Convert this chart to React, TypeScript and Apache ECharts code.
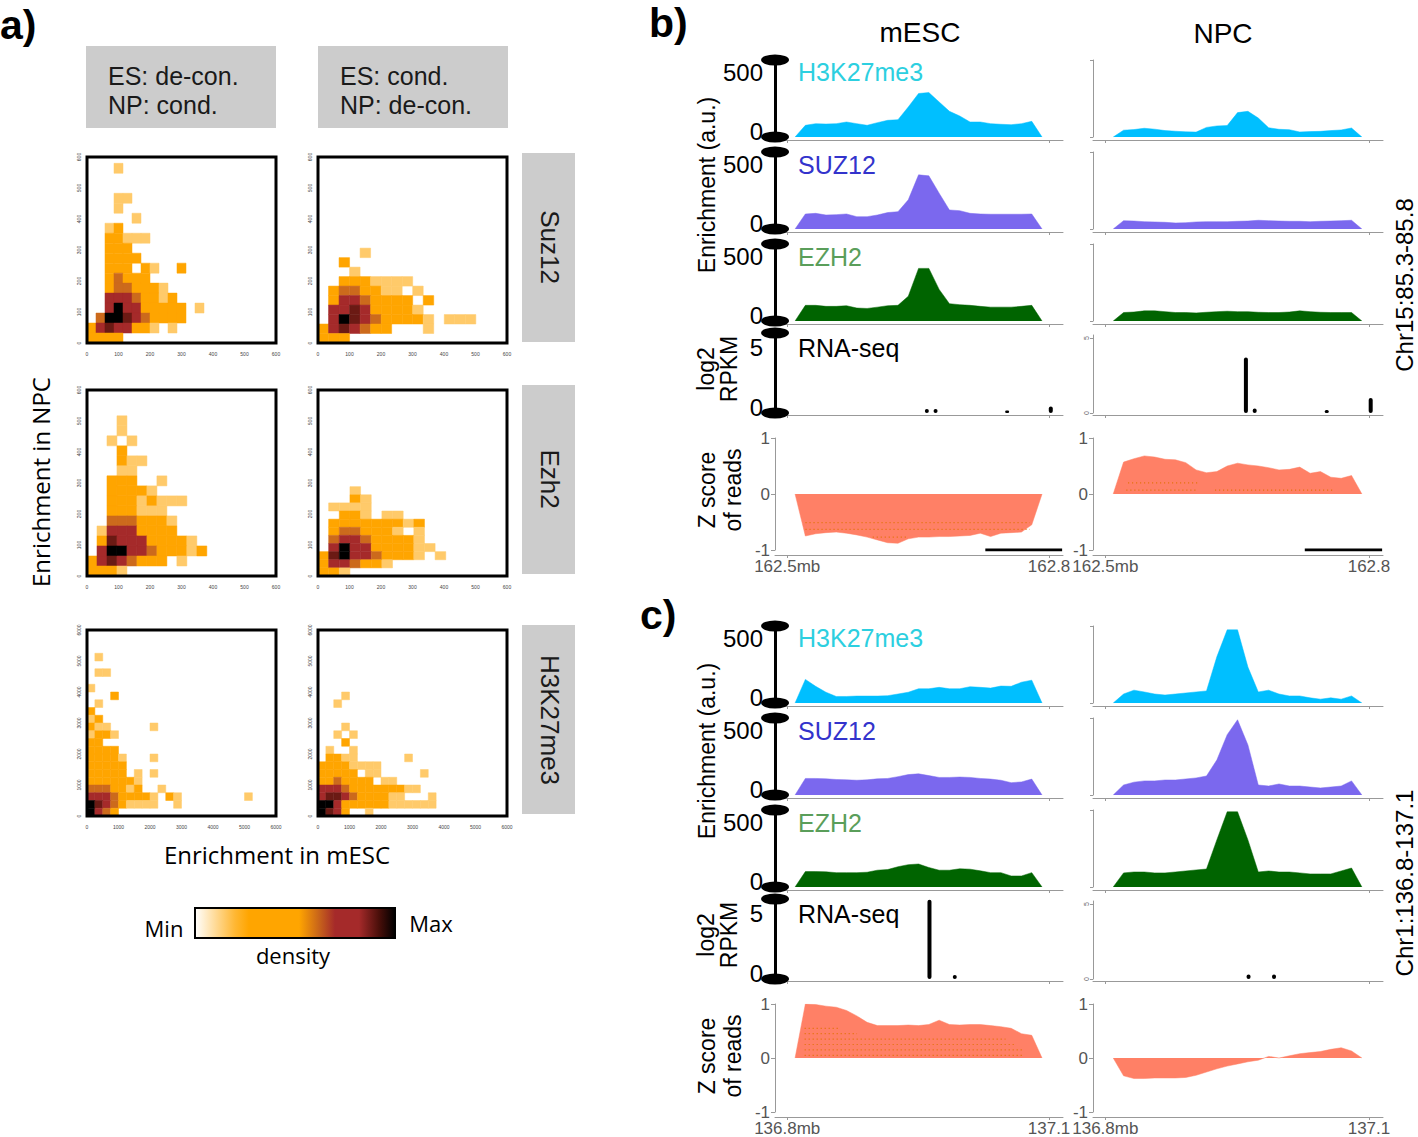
import React, { useEffect, useRef } from "react";
import * as echarts from "echarts";

const FONT = "'Liberation Sans', Arial, Helvetica, sans-serif";
const FONT_A = "'Open Sans', 'DejaVu Sans', sans-serif";

// ---------------- Panel a: binned density (level per bin, top row first) ----------------
const densityColors = ["#ffffff", "#ffca6a", "#ffa500", "#cc6a1c", "#a52a2a", "#6b1a14", "#000000"];
const densityStops = [
  [0, "#ffffff"], [0.2, "#ffb733"], [0.27, "#ffa500"], [0.52, "#ffa500"], [0.62, "#c8641a"],
  [0.7, "#a52a2a"], [0.82, "#a52a2a"], [0.92, "#4a0f0a"], [1, "#000000"],
];

const suz12DeconBins = [
  "...1.........",
  ".............",
  ".............",
  "...11........",
  "...1.........",
  ".....1.......",
  "..12.........",
  "..22111......",
  "..222........",
  "..2222.......",
  "..222.21..2..",
  "..23222......",
  "..2332221....",
  "..44432212...",
  "..464422222.1",
  ".3665432222..",
  "24544221.1...",
  "2222.........",
];
const suz12CondBins = [
  "....1..........",
  "..2............",
  "...1...........",
  "..2221111......",
  ".2332211.1.....",
  ".24432222.2....",
  ".445422221.....",
  ".4654322221.111",
  "2454322...1....",
  "222............",
];
const ezh2DeconBins = [
  "...1........",
  "...1........",
  "..1.1.......",
  "...2........",
  "...211......",
  "...11.......",
  "..222..1....",
  "..22221.....",
  "..22212111..",
  "..222111....",
  "..3332221...",
  ".14442222...",
  ".2544422221.",
  ".46644322212",
  "24543222.1..",
  "2221........",
];
const ezh2CondBins = [
  "...1........",
  "...21.......",
  ".1111.......",
  "..221.11....",
  ".222222212..",
  ".2332221.1..",
  ".344322221..",
  ".4644222211.",
  "2564432221.1",
  "2443221.....",
  "221.........",
];
const h3DeconBins = [
  ".1...................",
  ".....................",
  ".11..................",
  ".....................",
  "1....................",
  "...2.................",
  ".1...................",
  "2....................",
  "12...................",
  "211.....1............",
  "1221.................",
  "22...................",
  "2222.................",
  "22221...1............",
  "22222................",
  "22222.1.1............",
  "2222221..............",
  "3332212..1...........",
  "444322221.21........1",
  "654321111..1.........",
  "6432.................",
];
const h3CondBins = [
  "...1............",
  "..1.............",
  "................",
  "................",
  "...1............",
  "..1.1...........",
  "...2............",
  ".1..1...........",
  ".2211......1....",
  "22221111........",
  "22222.11.....1..",
  "2232222.11......",
  "4443222222211...",
  "45543222211...1.",
  "664222222111111.",
  "6542..1.........",
];

// ---------------- Panels b / c: genome tracks ----------------
const regionB = [162.509, 162.792];
const regionC = [136.809, 137.092];
const axisStartB = 162.5;
const axisStartC = 136.8;
const axisLabelsB = ["162.5mb", "162.8"];
const axisLabelsC = ["136.8mb", "137.1"];
const trackNames = ["H3K27me3", "SUZ12", "EZH2"];
const trackColors = ["#00bfff", "#7b68ee", "#006400"];
const trackLabelColors = ["#2ccfe0", "#3333cc", "#5a9e5a"];
const enrichTickValues = [0, 500];
const rnaTickValues = [0, 5];

// panel b, mESC
const h3B_mesc = [91, 104, 101, 104, 117, 104, 91, 112, 130, 135, 234, 339, 346, 273, 200, 164, 117, 117, 104, 99, 96, 104, 122];
const suzB_mesc = [117, 122, 109, 112, 117, 96, 96, 109, 128, 135, 227, 422, 414, 279, 148, 143, 122, 117, 115, 115, 115, 115, 117];
const ezhB_mesc = [122, 122, 114, 114, 119, 101, 98, 108, 119, 122, 193, 410, 410, 246, 135, 127, 122, 114, 108, 108, 108, 114, 122];
// panel b, NPC
const h3B_npc = [53, 58, 68, 61, 50, 45, 40, 38, 75, 86, 89, 190, 200, 148, 72, 60, 57, 39, 42, 44, 50, 55, 70];
const suzB_npc = [65, 62, 57, 55, 52, 47, 49, 55, 57, 57, 57, 60, 62, 68, 65, 62, 60, 60, 57, 60, 62, 65, 68];
const ezhB_npc = [66, 70, 79, 79, 73, 66, 66, 63, 68, 73, 76, 73, 73, 68, 66, 66, 70, 79, 73, 68, 66, 66, 66];
const rnaPosB = [162.66, 162.67, 162.752, 162.802];
const rnaB_mesc = [0.3, 0.3, 0.2, 0.5];
const rnaB_npc = [3.7, 0.3, 0.2, 1.0];
const zB_mesc = [-0.75, -0.71, -0.69, -0.68, -0.7, -0.73, -0.77, -0.82, -0.87, -0.88, -0.8, -0.77, -0.77, -0.76, -0.76, -0.75, -0.74, -0.7, -0.76, -0.7, -0.69, -0.68, -0.55];
const zB_npc = [0.57, 0.63, 0.68, 0.66, 0.62, 0.61, 0.56, 0.43, 0.38, 0.4, 0.5, 0.55, 0.52, 0.5, 0.47, 0.43, 0.44, 0.48, 0.37, 0.4, 0.3, 0.28, 0.33];
const zDotsB_mesc = [[162.521, 162.778, -0.51], [162.521, 162.778, -0.63], [162.598, 162.639, -0.77]];
const zDotsB_npc = [[162.526, 162.606, 0.2], [162.524, 162.603, 0.07], [162.625, 162.76, 0.07]];
const scaleBarB = [162.727, 162.815];

// panel c, mESC
const h3C_mesc = [184, 130, 84, 51, 51, 54, 54, 54, 57, 70, 84, 111, 111, 122, 111, 111, 127, 122, 116, 132, 130, 162, 178];
const suzC_mesc = [129, 129, 126, 121, 118, 115, 118, 126, 129, 143, 159, 165, 151, 137, 137, 140, 137, 129, 124, 115, 96, 102, 124];
const ezhC_mesc = [120, 120, 118, 112, 112, 112, 115, 131, 136, 158, 174, 179, 152, 131, 131, 142, 139, 126, 112, 112, 86, 86, 112];
// panel c, NPC
const h3C_npc = [70, 100, 86, 70, 62, 70, 78, 86, 94, 360, 570, 570, 280, 86, 100, 70, 55, 55, 40, 30, 40, 30, 55];
const suzC_npc = [78, 100, 110, 110, 117, 117, 125, 133, 148, 273, 470, 586, 390, 78, 70, 86, 70, 70, 62, 55, 62, 70, 110];
const ezhC_npc = [110, 117, 117, 110, 110, 117, 125, 133, 140, 367, 586, 586, 367, 117, 125, 117, 117, 110, 102, 102, 102, 125, 148];
const rnaPosC = [136.963, 136.992];
const rnaC_mesc = [6.1, 0.3];
const rnaC_npc = [0.3, 0.3];
const zC_mesc = [1.0, 0.99, 0.96, 0.94, 0.88, 0.78, 0.66, 0.6, 0.6, 0.6, 0.61, 0.6, 0.62, 0.7, 0.62, 0.61, 0.62, 0.62, 0.6, 0.58, 0.55, 0.45, 0.42];
const zC_npc = [-0.33, -0.38, -0.38, -0.37, -0.37, -0.37, -0.36, -0.32, -0.26, -0.2, -0.15, -0.11, -0.07, -0.04, 0.03, 0.0, 0.04, 0.08, 0.1, 0.12, 0.16, 0.19, 0.13];
const zDotsC_mesc = [[136.82, 137.07, 0.05], [136.82, 137.07, 0.15], [136.82, 137.06, 0.25], [136.82, 137.05, 0.35], [136.82, 136.88, 0.45], [136.82, 136.86, 0.55]];

const ellipseSymbol = "path://M0,5.5A14,5.5 0 1,1 28,5.5A14,5.5 0 1,1 0,5.5Z";

function areaPoints(region: number[], vals: number[]) {
  const [s, e] = region;
  const step = (e - s) / (vals.length + 1);
  return [[s, 0], ...vals.map((v, i) => [s + step * (i + 1), v]), [e, 0]];
}

function buildOption() {
  const grid: any[] = [];
  const xAxis: any[] = [];
  const yAxis: any[] = [];
  const series: any[] = [];
  const graphic: any[] = [];
  const add = (g: any, xa: any, ya: any) => {
    grid.push(g);
    const gi = grid.length - 1;
    xAxis.push({ ...xa, gridIndex: gi });
    yAxis.push({ ...ya, gridIndex: gi });
    return gi;
  };
  const text = (x: number, y: number, t: string, o: any = {}) => ({
    type: "text", x, y, rotation: o.rotation || 0, silent: true, z: 10,
    style: {
      text: t, fill: o.color || "#000", fontSize: o.size || 24, fontFamily: o.family || FONT,
      fontWeight: o.weight || "normal", align: o.align || "center", verticalAlign: "middle",
      lineHeight: o.lineHeight,
    },
  });

  // ---------- Panel a ----------
  const heatPanels = [
    { bins: suz12DeconBins, xb: 28.57, yb: 32.2, max: 600, col: 0, row: 0 },
    { bins: suz12CondBins, xb: 33.4, yb: 30.6, max: 600, col: 1, row: 0 },
    { bins: ezh2DeconBins, xb: 31.7, yb: 32.3, max: 600, col: 0, row: 1 },
    { bins: ezh2CondBins, xb: 33.8, yb: 26.2, max: 600, col: 1, row: 1 },
    { bins: h3DeconBins, xb: 250, yb: 250, max: 6000, col: 0, row: 2 },
    { bins: h3CondBins, xb: 250, yb: 250, max: 6000, col: 1, row: 2 },
  ];
  const heatLeft = [87, 318];
  const heatTop = [157, 390, 630];
  heatPanels.forEach((p) => {
    const baseAxis = {
      type: "value", min: 0, max: p.max, interval: p.max / 6,
      axisLine: { show: false, onZero: false }, axisTick: { show: false }, splitLine: { show: false },
    };
    const plain = (v: number) => String(v);
    const gi = add(
      { left: heatLeft[p.col], top: heatTop[p.row], width: 189, height: 186, show: true, borderColor: "#000", borderWidth: 3, backgroundColor: "transparent", z: 5 },
      { ...baseAxis, axisLabel: { fontSize: 5, color: "#444", margin: 8, fontFamily: FONT, formatter: plain } },
      { ...baseAxis, axisLabel: { fontSize: 5, color: "#444", margin: 6, rotate: 90, fontFamily: FONT, formatter: plain } }
    );
    const cells: number[][] = [];
    p.bins.forEach((rowStr, ri) => {
      const r = p.bins.length - 1 - ri;
      for (let c = 0; c < rowStr.length; c++) {
        const ch = rowStr[c];
        if (ch !== ".") cells.push([c * p.xb, r * p.yb, Number(ch)]);
      }
    });
    const xb = p.xb, yb = p.yb;
    series.push({
      type: "custom", xAxisIndex: gi, yAxisIndex: gi, data: cells, silent: true,
      encode: { x: 0, y: 1 },
      renderItem: (params: any, api: any) => {
        const x0 = api.value(0), y0 = api.value(1), lv = api.value(2);
        const p0 = api.coord([x0, y0]);
        const p1 = api.coord([x0 + xb, y0 + yb]);
        const col = densityColors[lv];
        return {
          type: "rect",
          shape: { x: p0[0], y: p1[1], width: p1[0] - p0[0], height: p0[1] - p1[1] },
          style: { fill: col, stroke: col, lineWidth: 0.5 },
        };
      },
    });
  });

  graphic.push(
    { type: "rect", shape: { x: 86, y: 46, width: 190, height: 82 }, style: { fill: "#cccccc" }, silent: true },
    { type: "rect", shape: { x: 318, y: 46, width: 190, height: 82 }, style: { fill: "#cccccc" }, silent: true },
    text(108, 90, "ES: de-con.\nNP: cond.", { align: "left", size: 25, lineHeight: 29, color: "#1a1a1a" }),
    text(340, 90, "ES: cond.\nNP: de-con.", { align: "left", size: 25, lineHeight: 29, color: "#1a1a1a" }),
    { type: "rect", shape: { x: 522, y: 153, width: 53, height: 189 }, style: { fill: "#cccccc" }, silent: true },
    { type: "rect", shape: { x: 522, y: 385, width: 53, height: 189 }, style: { fill: "#cccccc" }, silent: true },
    { type: "rect", shape: { x: 522, y: 625, width: 53, height: 189 }, style: { fill: "#cccccc" }, silent: true },
    text(550, 247, "Suz12", { rotation: -Math.PI / 2, size: 26, color: "#1a1a1a" }),
    text(550, 479, "Ezh2", { rotation: -Math.PI / 2, size: 26, color: "#1a1a1a" }),
    text(550, 720, "H3K27me3", { rotation: -Math.PI / 2, size: 26, color: "#1a1a1a" }),
    text(40, 482, "Enrichment in NPC", { rotation: Math.PI / 2, size: 24, family: FONT_A }),
    text(277, 854, "Enrichment in mESC", { size: 24, family: FONT_A }),
    {
      type: "rect", shape: { x: 195, y: 908, width: 200, height: 30 }, silent: true,
      style: {
        fill: new echarts.graphic.LinearGradient(0, 0, 1, 0, densityStops.map(([o, c]) => ({ offset: o as number, color: c as string }))),
        stroke: "#000", lineWidth: 2,
      },
    },
    text(164, 928, "Min", { size: 22, family: FONT_A }),
    text(431, 923, "Max", { size: 22, family: FONT_A }),
    text(293, 955, "density", { size: 22, family: FONT_A }),
    text(0, 25, "a)", { align: "left", size: 41, weight: "bold" }),
    text(649, 23, "b)", { align: "left", size: 41, weight: "bold" }),
    text(640, 615, "c)", { align: "left", size: 41, weight: "bold" }),
    text(920, 32, "mESC", { size: 28 }),
    text(1223, 33, "NPC", { size: 28 })
  );

  // ---------- Panels b / c ----------
  const columns = [
    { left: 775, width: 288, main: true },
    { left: 1093, width: 290, main: false },
  ];
  const panels = [
    {
      dy: 0, region: regionB, start: axisStartB, labels: axisLabelsB, chr: "Chr15:85.3-85.8",
      enrich: [[h3B_mesc, suzB_mesc, ezhB_mesc], [h3B_npc, suzB_npc, ezhB_npc]],
      rnaPos: rnaPosB, rna: [rnaB_mesc, rnaB_npc], z: [zB_mesc, zB_npc],
      dots: [zDotsB_mesc, zDotsB_npc], scaleBar: scaleBarB,
    },
    {
      dy: 566, region: regionC, start: axisStartC, labels: axisLabelsC, chr: "Chr1:136.8-137.1",
      enrich: [[h3C_mesc, suzC_mesc, ezhC_mesc], [h3C_npc, suzC_npc, ezhC_npc]],
      rnaPos: rnaPosC, rna: [rnaC_mesc, rnaC_npc], z: [zC_mesc, zC_npc],
      dots: [zDotsC_mesc, []], scaleBar: null as any,
    },
  ];
  const enrichTops = [60, 152, 244];
  const gray = "#999999";

  panels.forEach((P) => {
    const xMin = P.start - 0.014;
    const xMax = P.start + 0.316;
    const xTicks = [P.start, P.start + 0.3];
    const trackX = (offset: number, showLabels: boolean) => ({
      type: "value", min: xMin, max: xMax, offset,
      axisLine: { show: true, onZero: false, lineStyle: { color: gray, width: 1 } },
      axisTick: { show: true, customValues: xTicks, length: 3, lineStyle: { color: gray } },
      axisLabel: showLabels
        ? {
            show: true, customValues: xTicks, fontSize: 17, color: "#555", margin: 3, fontFamily: FONT,
            formatter: (v: number) => (Math.abs(v - P.start) < 1e-6 ? P.labels[0] : P.labels[1]),
          }
        : { show: false },
      splitLine: { show: false },
    });
    const mainY = (max: number, ticks: number[]) => ({
      type: "value", min: 0, max,
      axisLine: { show: true, onZero: false, lineStyle: { color: "#000", width: 3 }, symbol: [ellipseSymbol, ellipseSymbol], symbolSize: [28, 11] },
      axisTick: { show: false },
      splitLine: { show: false },
      axisLabel: {
        show: true, customValues: ticks, fontSize: 24, color: "#000", margin: 12, fontFamily: FONT,
        formatter: (v: number) => (v === 0 ? "{lo|0}" : "{hi|" + v + "}"),
        rich: { lo: { fontSize: 24, padding: [0, 0, 12, 0] }, hi: { fontSize: 24 } },
      },
    });
    const thinY = (max: number, ticks: number[], tinyLabels: boolean) => ({
      type: "value", min: 0, max,
      axisLine: { show: true, onZero: false, lineStyle: { color: gray, width: 1 } },
      axisTick: { show: true, customValues: ticks, length: 3, lineStyle: { color: gray } },
      splitLine: { show: false },
      axisLabel: tinyLabels
        ? { show: true, customValues: [0, 5], fontSize: 7, rotate: 90, color: "#666", margin: 3, fontFamily: FONT }
        : { show: false },
    });

    columns.forEach((C, ci) => {
      // enrichment tracks
      for (let t = 0; t < 3; t++) {
        const gi = add(
          { left: C.left, top: enrichTops[t] + P.dy, width: C.width, height: 77 },
          trackX(3, false),
          C.main ? mainY(600, enrichTickValues) : thinY(600, [0, 600], false)
        );
        series.push({
          type: "line", xAxisIndex: gi, yAxisIndex: gi, data: areaPoints(P.region, P.enrich[ci][t]),
          symbol: "none", silent: true, lineStyle: { width: 0.5, color: trackColors[t] },
          areaStyle: { color: trackColors[t], opacity: 1, origin: 0 },
        });
      }
      // RNA-seq
      const rnaGi = add(
        C.main
          ? { left: C.left, top: 333 + P.dy, width: C.width, height: 80 }
          : { left: C.left, top: 335 + P.dy, width: C.width, height: 78 },
        trackX(2, false),
        C.main ? mainY(6.15, rnaTickValues) : thinY(5.2, rnaTickValues, true)
      );
      series.push({
        type: "bar", xAxisIndex: rnaGi, yAxisIndex: rnaGi, silent: true,
        data: P.rnaPos.map((x, i) => [x, P.rna[ci][i]]),
        barWidth: 4, itemStyle: { color: "#000", borderRadius: 2 },
      });
      // Z score
      const zGi = add(
        { left: C.left, top: 438 + P.dy, width: C.width, height: 112 },
        trackX(5, true),
        {
          type: "value", min: -1, max: 1, interval: 1,
          axisLine: { show: true, onZero: false, lineStyle: { color: gray, width: 1 } },
          axisTick: { show: true, length: 4, lineStyle: { color: gray } },
          splitLine: { show: false },
          axisLabel: { fontSize: 17, color: "#555", margin: 5, fontFamily: FONT },
        }
      );
      series.push({
        type: "line", xAxisIndex: zGi, yAxisIndex: zGi, data: areaPoints(P.region, P.z[ci]),
        symbol: "none", silent: true, lineStyle: { width: 0.5, color: "#ff8066" },
        areaStyle: { color: "#ff8066", opacity: 1, origin: 0 },
      });
      (P.dots[ci] as number[][]).forEach((d) => {
        series.push({
          type: "line", xAxisIndex: zGi, yAxisIndex: zGi, data: [[d[0], d[2]], [d[1], d[2]]],
          symbol: "none", silent: true, z: 3,
          lineStyle: { width: 1.2, color: "#e07000", type: [1, 3] },
        });
      });
      if (P.scaleBar) {
        series.push({
          type: "line", xAxisIndex: zGi, yAxisIndex: zGi, data: [[P.scaleBar[0], -1], [P.scaleBar[1], -1]],
          symbol: "none", silent: true, z: 4, lineStyle: { width: 3, color: "#000" },
        });
      }
    });

    // labels for this panel
    for (let t = 0; t < 3; t++) {
      graphic.push(text(798, [72, 165, 257][t] + P.dy, trackNames[t], { align: "left", size: 25, color: trackLabelColors[t] }));
    }
    graphic.push(
      text(798, 348 + P.dy, "RNA-seq", { align: "left", size: 25 }),
      text(707, 185 + P.dy, "Enrichment (a.u.)", { rotation: Math.PI / 2, size: 23 }),
      text(717, 369 + P.dy, "log2\nRPKM", { rotation: Math.PI / 2, size: 23, lineHeight: 23 }),
      text(720, 490 + P.dy, "Z score\nof reads", { rotation: Math.PI / 2, size: 23, lineHeight: 26 }),
      text(1404, (P.dy === 0 ? 285 : 883), P.chr, { rotation: Math.PI / 2, size: 24 })
    );
  });

  return { animation: false, backgroundColor: "#ffffff", grid, xAxis, yAxis, series, graphic };
}

export default function App() {
  const ref = useRef<HTMLDivElement>(null);
  useEffect(() => {
    if (!ref.current) return;
    const chart = echarts.init(ref.current, null, { renderer: "svg" });
    chart.setOption(buildOption() as any);
    return () => chart.dispose();
  }, []);
  return (
    <div
      ref={ref}
      style={{ position: "absolute", left: 0, top: 0, width: 1418, height: 1137, background: "#fff" }}
    />
  );
}
